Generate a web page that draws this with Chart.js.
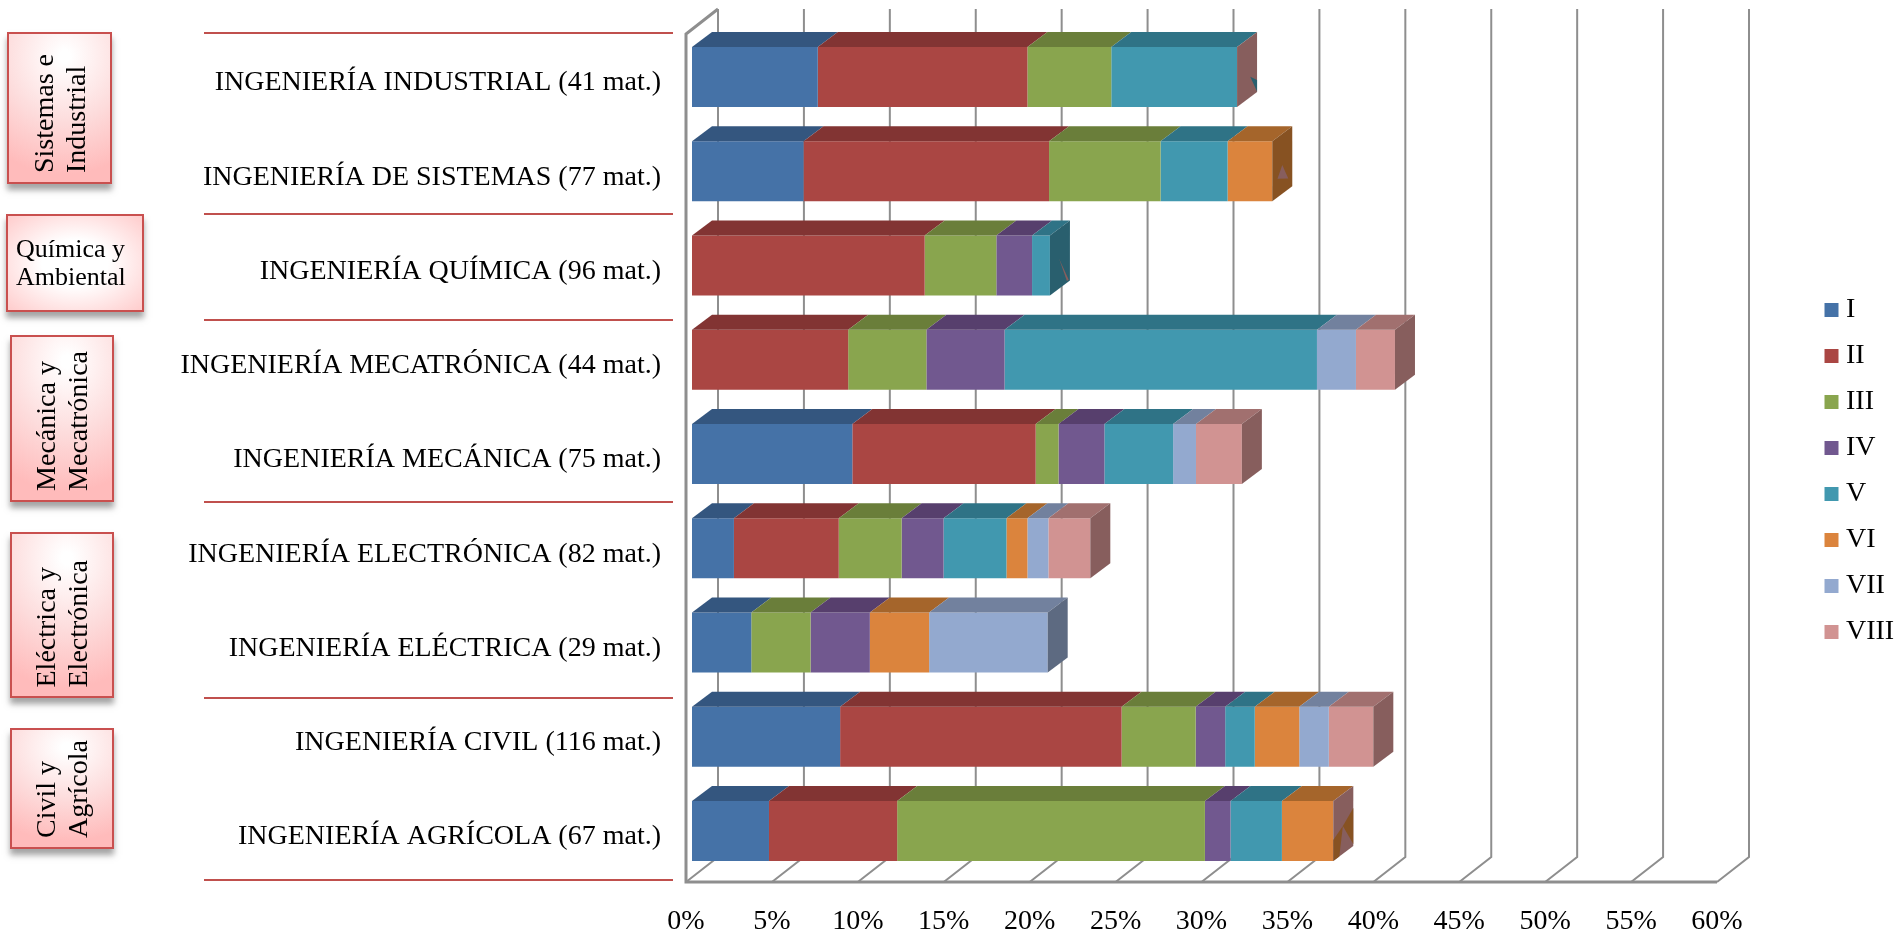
<!DOCTYPE html>
<html>
<head>
<meta charset="utf-8">
<title>Materias por semestre</title>
<script src="https://cdn.jsdelivr.net/npm/chart.js@4/dist/chart.umd.min.js"></script>
<style>
    body { margin: 0; background: #fff; font-family: "Liberation Serif", serif; color: #000; }
    #wrap { position: relative; width: 1897px; height: 935px; overflow: hidden; }
    canvas { position: absolute; left: 0; top: 0; }
    .sep { position: absolute; left: 204px; width: 469px; height: 2px; background: #c0504d; }
    .box {
        position: absolute; box-sizing: border-box; border: 2px solid #c9504f;
        background: radial-gradient(ellipse 110% 80% at 55% 15%, #fff 5%, #fddcdc 55%, #fbb 100%);
        box-shadow: 0 6px 6px rgba(90, 90, 90, .55);
        display: flex; align-items: flex-end; justify-content: center;
    }
    .box span {
        display: block; white-space: nowrap; font-size: 28px; line-height: 32px; margin-bottom: 9px;
        writing-mode: vertical-rl; transform: rotate(180deg); text-align: left;
    }
    .box.flat { background: radial-gradient(ellipse at center, #fff 35%, #fcc 100%); align-items: center; justify-content: flex-start; }
    .box.flat span { font-size: 26px; line-height: 28px; margin: 0 0 0 8px; writing-mode: horizontal-tb; transform: none; }
</style>
</head>
<body>
<div id="wrap">
    <canvas id="chart-materias" width="1897" height="935"></canvas>

    <div class="sep" style="top:32px"></div>
    <div class="sep" style="top:213px"></div>
    <div class="sep" style="top:319px"></div>
    <div class="sep" style="top:501px"></div>
    <div class="sep" style="top:697px"></div>
    <div class="sep" style="top:879px"></div>

    <div class="box" style="left:7px;top:32px;width:105px;height:152px"><span>Sistemas e<br>Industrial</span></div>
    <div class="box flat" style="left:6px;top:214px;width:138px;height:98px"><span>Química y<br>Ambiental</span></div>
    <div class="box" style="left:10px;top:335px;width:104px;height:167px"><span>Mecánica y<br>Mecatrónica</span></div>
    <div class="box" style="left:10px;top:532px;width:104px;height:166px"><span>Eléctrica y<br>Electrónica</span></div>
    <div class="box" style="left:10px;top:728px;width:104px;height:121px"><span>Civil y<br>Agrícola</span></div>
</div>

<script>
//data
const categories = [
    'INGENIERÍA INDUSTRIAL (41 mat.)',
    'INGENIERÍA DE SISTEMAS (77 mat.)',
    'INGENIERÍA QUÍMICA (96 mat.)',
    'INGENIERÍA MECATRÓNICA (44 mat.)',
    'INGENIERÍA MECÁNICA (75 mat.)',
    'INGENIERÍA ELECTRÓNICA (82 mat.)',
    'INGENIERÍA ELÉCTRICA (29 mat.)',
    'INGENIERÍA CIVIL (116 mat.)',
    'INGENIERÍA AGRÍCOLA (67 mat.)',
];
const seriesNames = ['I', 'II', 'III', 'IV', 'V', 'VI', 'VII', 'VIII'];

const serie_I    = [7.32, 6.49, 0, 0, 9.33, 2.44, 3.45, 8.62, 4.48];
const serie_II   = [12.20, 14.29, 13.54, 9.09, 10.67, 6.10, 0, 16.38, 7.46];
const serie_III  = [4.88, 6.49, 4.17, 4.55, 1.33, 3.66, 3.45, 4.31, 17.91];
const serie_IV   = [0, 0, 2.08, 4.55, 2.67, 2.44, 3.45, 1.72, 1.49];
const serie_V    = [7.32, 3.90, 1.04, 18.18, 4.00, 3.66, 0, 1.72, 2.99];
const serie_VI   = [0, 2.60, 0, 0, 0, 1.22, 3.45, 2.59, 2.99];
const serie_VII  = [0, 0, 0, 2.27, 1.33, 1.22, 6.90, 1.72, 0];
const serie_VIII = [0, 0, 0, 2.27, 2.67, 2.44, 0, 2.59, 0];
const allSeries = [serie_I, serie_II, serie_III, serie_IV, serie_V, serie_VI, serie_VII, serie_VIII];

const xTickStep = 5;
const xMax = 60;

//styles
const frontColors = ['#4572a7', '#aa4643', '#89a54e', '#71588f', '#4198af', '#db843d', '#93a9cf', '#d19392'];
const topColors   = ['#34567f', '#823433', '#6a7e3a', '#573f6d', '#2f7386', '#a5652b', '#72819e', '#a1706f'];
const sideColors  = ['#2a4467', '#672928', '#53632e', '#443256', '#295f6e', '#875222', '#5d6a81', '#875e5d'];
// the end cap colour of every row, the reference does not always use the last segment
const capSeries = [7, 5, 4, 7, 7, 7, 6, 7, 7];
// little overlapping bits on some end caps, as fractions of the cap: [row, series colour, points]
const capBits = [
    [0, 4, [[.66, .66], [1, .99], [1, .8]]],
    [1, 7, [[.5, .52], [.26, .69], [.8, .82]]],
    [2, 7, [[.46, .5], [.94, .97], [.85, .97]]],
    [8, 5, [[.48, .54], [1, .37], [1, .97]]],
    [8, 5, [[.48, .54], [0, .65], [0, 1], [.3, 1]]],
];

const WALL = '#8e8e8e';
const BAR_DX = 20, BAR_DY = 15;     // depth of the bars
const WALL_DX = 32, WALL_DY = 25;   // depth of the plot box
const FRONT_OFFSET = 6;             // bars sit this far inside the front edge

function face(ctx, points, color) {
    ctx.fillStyle = color;
    ctx.beginPath();
    points.forEach((p, i) => i ? ctx.lineTo(p[0], p[1]) : ctx.moveTo(p[0], p[1]));
    ctx.closePath();
    ctx.fill();
}

// grid walls behind the bars, top and end faces over them
const wallsPlugin = {
    id: 'walls',
    afterLayout(chart) {
        // keep the legend out of the plot, on the far right
        const legend = chart.legend;
        legend.left = 1813;
        legend.right = 1897;
        legend.top = 278;
        legend.bottom = 935;
    },
    beforeDatasetsDraw(chart) {
        const ctx = chart.ctx, x = chart.scales.x, area = chart.chartArea;
        const floorY = area.bottom + 4, topY = area.top + 4;
        ctx.save();
        ctx.strokeStyle = WALL;
        ctx.lineWidth = 2;
        x.ticks.forEach(t => {
            const px = x.getPixelForValue(t.value) - FRONT_OFFSET;
            ctx.beginPath();
            ctx.moveTo(px, floorY);
            ctx.lineTo(px + WALL_DX, floorY - WALL_DY);
            ctx.lineTo(px + WALL_DX, topY - WALL_DY);
            ctx.stroke();
        });
        const left = x.getPixelForValue(0) - FRONT_OFFSET, right = x.getPixelForValue(xMax) - FRONT_OFFSET;
        ctx.lineWidth = 3;
        ctx.beginPath();
        ctx.moveTo(left + WALL_DX, topY - WALL_DY);
        ctx.lineTo(left, topY);
        ctx.lineTo(left, floorY);
        ctx.lineTo(right, floorY);
        ctx.stroke();
        ctx.restore();
    },
    afterDatasetsDraw(chart) {
        const ctx = chart.ctx;
        categories.forEach((c, row) => {
            let end = null;
            allSeries.forEach((s, i) => {
                if (!s[row]) return;
                const bar = chart.getDatasetMeta(i).data[row];
                const top = bar.y - bar.height / 2;
                face(ctx, [[bar.base, top], [bar.x, top], [bar.x + BAR_DX, top - BAR_DY], [bar.base + BAR_DX, top - BAR_DY]], topColors[i]);
                end = { x: bar.x, top: top, height: bar.height };
            });
            face(ctx, [[end.x, end.top], [end.x + BAR_DX, end.top - BAR_DY], [end.x + BAR_DX, end.top + end.height - BAR_DY], [end.x, end.top + end.height]], sideColors[capSeries[row]]);
            capBits.filter(b => b[0] === row).forEach(b => {
                const pts = b[2].map(p => [end.x + p[0] * BAR_DX, end.top - p[0] * BAR_DY + p[1] * end.height]);
                face(ctx, pts, sideColors[b[1]]);
            });
        });
    }
};

const serifFont = { family: '"Liberation Serif", serif', size: 28 };

//render
const chartMaterias = new Chart(document.getElementById('chart-materias'), {
    type: 'bar',
    plugins: [wallsPlugin],
    data: {
        labels: categories,
        datasets: allSeries.map((values, i) => ({
            label: seriesNames[i],
            data: values,
            backgroundColor: frontColors[i],
            borderWidth: 0,
            barPercentage: 0.637,
            categoryPercentage: 1,
        })),
    },
    options: {
        indexAxis: 'y',
        responsive: false,
        animation: false,
        layout: { padding: { top: 30, right: 174, bottom: 0, left: 0 } },
        scales: {
            x: {
                stacked: true,
                min: 0,
                max: xMax,
                grid: { display: false, drawTicks: false },
                border: { display: false },
                afterFit(scale) { scale.height = 57; },
                ticks: {
                    stepSize: xTickStep,
                    color: '#000',
                    font: serifFont,
                    padding: 27,
                    maxRotation: 0,
                    labelOffset: -FRONT_OFFSET,
                    callback: v => v + '%',
                },
            },
            y: {
                stacked: true,
                grid: { display: false, drawTicks: false },
                border: { display: false },
                afterFit(scale) {
                    scale.width = 692;
                    scale.paddingTop = 0;
                    scale.paddingBottom = 0;
                },
                ticks: { color: '#000', font: serifFont, padding: 31, labelOffset: 6 },
            },
        },
        plugins: {
            tooltip: { enabled: false },
            legend: {
                position: 'chartArea',
                align: 'start',
                labels: {
                    boxWidth: 1,
                    boxHeight: 1,
                    padding: 18,
                    color: '#000',
                    font: serifFont,
                    // thick outline gives the 14px swatch and a closer text gap than a plain box
                    generateLabels(chart) {
                        return Chart.defaults.plugins.legend.labels.generateLabels(chart).map((item, i) => {
                            item.lineWidth = 13;
                            item.strokeStyle = frontColors[i];
                            return item;
                        });
                    },
                },
            },
        },
    },
});
</script>
</body>
</html>
